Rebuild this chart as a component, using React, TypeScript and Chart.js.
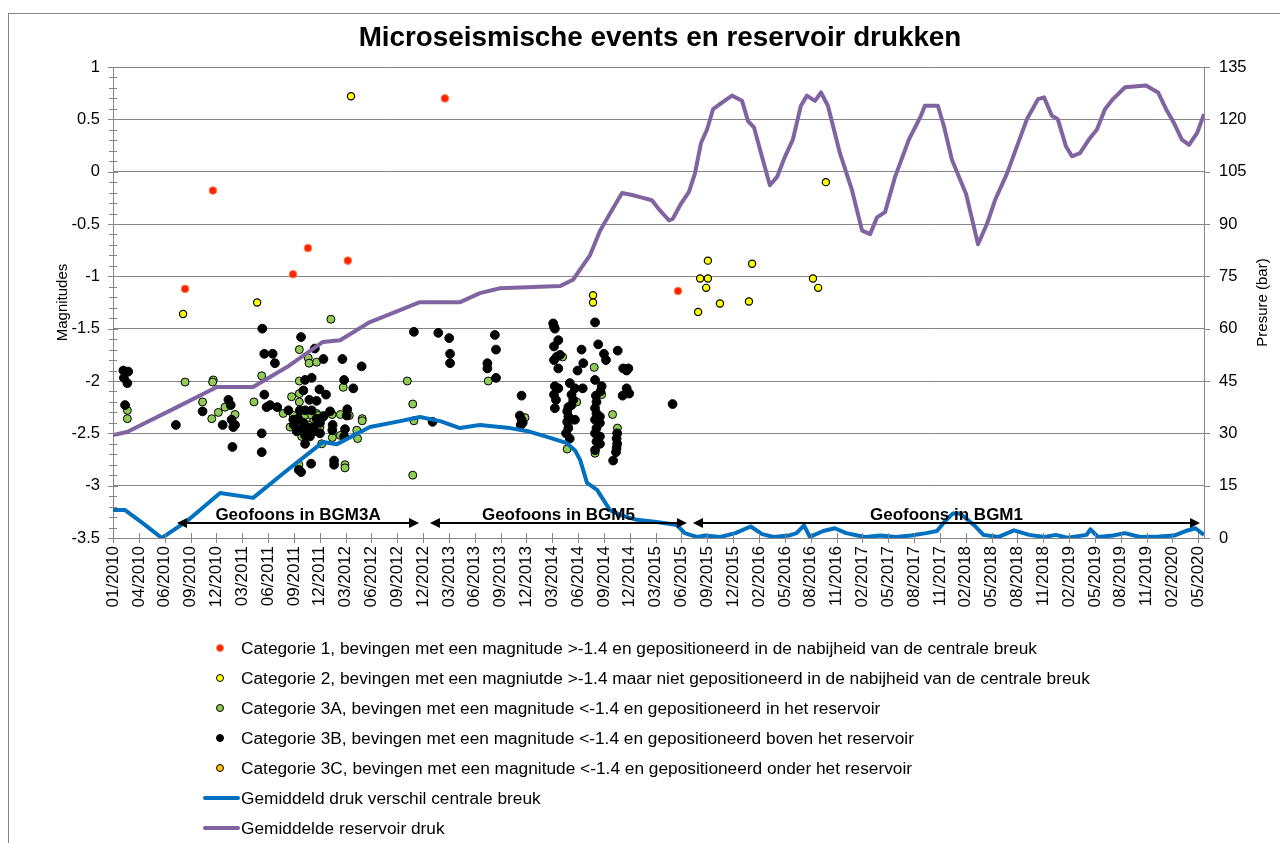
import React, { useEffect, useRef } from 'react';
import { Chart, registerables } from 'chart.js';

Chart.register(...registerables);

const FONT = '"Liberation Sans", Arial, sans-serif';

const TITLE = 'Microseismische events en reservoir drukken';
const Y_LEFT_TITLE = 'Magnitudes';
const Y_RIGHT_TITLE = 'Presure (bar)';

// x axis: days since 01/01/2010, a tick every 90 days
const X_TICK_LABELS = [
  '01/2010', '04/2010', '06/2010', '09/2010', '12/2010',
  '03/2011', '06/2011', '09/2011', '12/2011',
  '03/2012', '06/2012', '09/2012', '12/2012',
  '03/2013', '06/2013', '09/2013', '12/2013',
  '03/2014', '06/2014', '09/2014', '12/2014',
  '03/2015', '06/2015', '09/2015', '12/2015',
  '02/2016', '05/2016', '08/2016', '11/2016',
  '02/2017', '05/2017', '08/2017', '11/2017',
  '02/2018', '05/2018', '08/2018', '11/2018',
  '02/2019', '05/2019', '08/2019', '11/2019',
  '02/2020', '05/2020',
];
const X_TICK_STEP_DAYS = 90;
const X_MAX_DAYS = 3800;

const MAG_MIN = -3.5;
const MAG_MAX = 1;
const MAG_STEP = 0.5;
const PRES_MIN = 0;
const PRES_MAX = 135;
const PRES_STEP = 15;

// [day since 01/01/2010, magnitude]
const CAT1_EVENTS: [number, number][] = [
  [251, -1.12], [348, -0.18], [627, -0.98], [679, -0.73], [818, -0.85], [1156, 0.70], [1968, -1.14],
];

const CAT2_EVENTS: [number, number][] = [
  [244, -1.36], [502, -1.25], [829, 0.72], [1672, -1.18], [1672, -1.25], [2038, -1.34], [2045, -1.02],
  [2072, -1.02], [2072, -0.85], [2066, -1.11], [2114, -1.26], [2215, -1.24], [2226, -0.88], [2438, -1.02],
  [2456, -1.11], [2483, -0.10],
];

const CAT3A_EVENTS: [number, number][] = [
  [50, -2.28], [50, -2.36], [251, -2.01], [349, -1.99], [347, -2.01], [312, -2.20], [344, -2.36],
  [367, -2.30], [390, -2.25], [425, -2.32], [491, -2.20], [518, -1.95], [593, -2.31], [622, -2.15],
  [649, -1.70], [680, -1.78], [683, -1.83], [709, -1.82], [802, -2.06], [649, -2.00], [649, -2.12],
  [649, -2.20], [709, -2.31], [792, -2.32], [823, -2.33], [868, -2.36], [868, -2.38], [763, -2.32],
  [849, -2.47], [852, -2.55], [764, -2.54], [792, -2.52], [628, -2.33], [651, -2.37], [669, -2.33],
  [692, -2.33], [715, -2.33], [698, -2.39], [733, -2.33], [680, -2.42], [648, -2.44], [617, -2.44],
  [721, -2.44], [727, -2.60], [657, -2.53], [647, -2.80], [655, -2.87], [808, -2.80], [808, -2.83],
  [759, -1.41], [1025, -2.00], [1044, -2.22], [1048, -2.38], [1044, -2.90], [1307, -2.00],
  [1435, -2.35], [1566, -1.77], [1586, -2.41], [1582, -2.65], [1615, -2.20], [1676, -1.87],
  [1702, -2.13], [1679, -2.69], [1696, -2.60], [1740, -2.32], [1757, -2.45],
];

const CAT3B_EVENTS: [number, number][] = [
  [36, -1.90], [53, -1.91], [38, -1.97], [50, -2.02], [42, -2.23], [219, -2.42], [312, -2.29],
  [402, -2.18], [410, -2.23], [382, -2.42], [413, -2.37], [425, -2.42], [419, -2.44], [416, -2.63],
  [520, -1.50], [527, -1.74], [556, -1.74], [564, -1.83], [527, -2.13], [535, -2.25], [547, -2.23],
  [572, -2.25], [518, -2.50], [518, -2.68], [611, -2.28], [655, -1.58], [703, -1.69], [733, -1.79],
  [799, -1.79], [866, -1.86], [805, -1.99], [837, -2.07], [669, -1.99], [692, -1.97], [663, -2.09],
  [719, -2.08], [742, -2.13], [684, -2.18], [709, -2.19], [756, -2.29], [816, -2.27], [814, -2.33],
  [765, -2.42], [808, -2.46], [764, -2.47], [805, -2.53], [628, -2.37], [645, -2.36], [663, -2.40],
  [675, -2.44], [651, -2.47], [669, -2.52], [669, -2.60], [686, -2.53], [698, -2.44], [721, -2.40],
  [709, -2.36], [733, -2.34], [692, -2.28], [669, -2.28], [651, -2.28], [630, -2.42], [640, -2.48],
  [680, -2.48], [703, -2.48], [721, -2.50], [770, -2.76], [770, -2.80], [690, -2.79], [655, -2.87],
  [647, -2.85], [1048, -1.53], [1133, -1.54], [1171, -1.59], [1174, -1.74], [1174, -1.83],
  [1113, -2.39], [1330, -1.56], [1334, -1.70], [1304, -1.83], [1304, -1.88], [1334, -1.97],
  [1423, -2.14], [1417, -2.33], [1423, -2.37], [1427, -2.40], [1420, -2.42],
  [1533, -1.45], [1536, -1.48], [1539, -1.50], [1551, -1.61], [1536, -1.67], [1536, -1.80],
  [1545, -1.77], [1557, -1.75], [1551, -1.88], [1539, -2.05], [1551, -2.07], [1536, -2.13],
  [1543, -2.18], [1539, -2.26], [1591, -2.02], [1609, -2.07], [1597, -2.13], [1603, -2.18],
  [1597, -2.23], [1586, -2.25], [1582, -2.29], [1586, -2.34], [1582, -2.39], [1586, -2.45],
  [1578, -2.50], [1591, -2.55], [1609, -2.37], [1632, -1.70], [1638, -1.83], [1618, -1.90],
  [1636, -2.07], [1679, -1.44], [1690, -1.65], [1710, -1.74], [1717, -1.80], [1679, -1.99],
  [1702, -2.05], [1698, -2.10], [1682, -2.14], [1684, -2.20], [1679, -2.26], [1684, -2.31],
  [1696, -2.34], [1679, -2.37], [1696, -2.40], [1684, -2.45], [1679, -2.50], [1696, -2.53],
  [1684, -2.58], [1696, -2.60], [1679, -2.66], [1758, -1.71], [1777, -1.88], [1795, -1.88],
  [1789, -1.90], [1789, -2.07], [1798, -2.12], [1775, -2.14], [1756, -2.50], [1754, -2.55],
  [1756, -2.60], [1754, -2.64], [1752, -2.68], [1742, -2.76], [1949, -2.22],
];

const CAT3C_EVENTS: [number, number][] = [];

// [day since 01/01/2010, bar]
const FAULT_PRESSURE_DIFF: [number, number][] = [
  [0, 8.0], [42, 8.0], [100, 4.5], [170, 0], [260, 5.0], [373, 12.9], [488, 11.5], [600, 19.0],
  [731, 27.5], [780, 26.9], [895, 31.8], [1000, 33.5], [1069, 34.7], [1140, 33.5], [1208, 31.5],
  [1278, 32.4], [1347, 31.8], [1383, 31.5], [1450, 30.5], [1512, 29.0], [1581, 27.2], [1610, 25.0],
  [1627, 22.4], [1651, 15.8], [1686, 13.8], [1731, 8.0], [1770, 6.5], [1825, 5.2], [1900, 4.5],
  [1964, 3.7], [1990, 1.5], [2010, 0.9], [2035, 0.3], [2062, 0.7], [2115, 0.3], [2168, 1.4],
  [2221, 3.3], [2261, 1.1], [2301, 0.3], [2354, 0.7], [2381, 1.4], [2407, 3.6], [2427, 0.3],
  [2474, 2.0], [2514, 2.8], [2554, 1.4], [2593, 0.7], [2620, 0.3], [2673, 0.7], [2726, 0.3],
  [2779, 0.7], [2832, 1.4], [2870, 2.0], [2900, 5.0], [2925, 7.0], [2950, 7.0], [2980, 5.0],
  [3000, 3.6], [3032, 0.9], [3085, 0.3], [3138, 2.2], [3191, 0.9], [3245, 0.3], [3284, 0.9],
  [3324, 0.1], [3391, 0.9], [3404, 2.5], [3431, 0.3], [3484, 0.7], [3524, 1.4], [3577, 0.3],
  [3643, 0.4], [3696, 0.7], [3736, 2.0], [3770, 2.8], [3800, 0.9],
];

const RESERVOIR_PRESSURE: [number, number][] = [
  [0, 29.5], [49, 30.4], [223, 37.5], [362, 43.3], [488, 43.3], [606, 49.0], [731, 56.2], [791, 56.7],
  [895, 61.9], [1069, 67.6], [1209, 67.6], [1278, 70.2], [1348, 71.6], [1557, 72.2], [1602, 74.0],
  [1661, 81.0], [1696, 88.0], [1731, 93.0], [1773, 98.9], [1808, 98.3], [1836, 97.7], [1877, 96.8],
  [1905, 93.9], [1937, 91.0], [1950, 91.5], [1978, 95.8], [2006, 99.2], [2027, 104.5], [2048, 113.2],
  [2069, 117.1], [2090, 122.9], [2121, 124.8], [2156, 126.8], [2191, 125.3], [2212, 119.5],
  [2233, 117.6], [2260, 109.4], [2288, 101.1], [2313, 103.5], [2341, 109.4], [2368, 114.2],
  [2396, 123.9], [2417, 126.8], [2445, 125.3], [2466, 127.7], [2490, 123.9], [2532, 110.3],
  [2574, 99.7], [2609, 88.1], [2637, 87.1], [2661, 91.9], [2689, 93.4], [2724, 103.5], [2772, 114.2],
  [2814, 121.0], [2828, 123.9], [2873, 123.9], [2894, 118.1], [2922, 108.4], [2971, 98.7],
  [3013, 84.2], [3044, 90.0], [3072, 96.8], [3114, 104.5], [3183, 120.0], [3222, 125.8],
  [3243, 126.3], [3270, 121.0], [3291, 120.0], [3319, 112.3], [3340, 109.4], [3368, 110.3],
  [3399, 114.2], [3427, 117.1], [3455, 122.9], [3483, 125.8], [3525, 129.2], [3598, 129.7],
  [3640, 127.7], [3668, 122.9], [3695, 119.0], [3723, 114.2], [3748, 112.7], [3776, 116.1],
  [3800, 121.5],
];

// geophone periods: label, from day, to day
const GEOPHONE_LABELS = ['Geofoons in BGM3A', 'Geofoons in BGM5', 'Geofoons in BGM1'];
const GEOPHONE_FROM = [223, 1104, 2020];
const GEOPHONE_TO = [1066, 1999, 3786];
const GEOPHONE_LEVEL = -3.36;

const LEGEND_LABELS = [
  'Categorie 1, bevingen met een magnitude >-1.4 en gepositioneerd in de nabijheid van de centrale breuk',
  'Categorie 2, bevingen met een magniutde >-1.4 maar niet gepositioneerd in de nabijheid van de centrale breuk',
  'Categorie 3A, bevingen met een magnitude <-1.4 en gepositioneerd in het reservoir',
  'Categorie 3B, bevingen met een magnitude <-1.4 en gepositioneerd boven het reservoir',
  'Categorie 3C, bevingen met een magnitude <-1.4 en gepositioneerd onder het reservoir',
  'Gemiddeld druk verschil centrale breuk',
  'Gemiddelde reservoir druk',
];

const AXIS_COLOR = '#868686';
const C_CAT1 = '#FF2200';
const C_CAT1_RIM = '#FF7A4A';
const C_CAT2 = '#FFFF00';
const C_CAT3A = '#8FCB55';
const C_CAT3B = '#000000';
const C_CAT3C = '#FFC000';
const C_BLUE = '#0070C0';
const C_PURPLE = '#8064A2';

const toXY = (arr: [number, number][]) => arr.map(([x, y]) => ({ x, y }));

const decorPlugin = {
  id: 'decor',
  afterDraw(chart: any) {
    const { ctx, chartArea: a, scales } = chart;
    const x = scales.x;
    const y = scales.y;
    const y2 = scales.y2;
    ctx.save();
    ctx.strokeStyle = AXIS_COLOR;
    ctx.lineWidth = 1;
    // left axis ticks (major + minor, crossing)
    const nMinor = Math.round((MAG_MAX - MAG_MIN) / 0.1);
    for (let i = 0; i <= nMinor; i++) {
      const v = MAG_MIN + i * 0.1;
      const py = Math.round(y.getPixelForValue(v)) + 0.5;
      const len = i % 5 === 0 ? 5 : 4;
      ctx.beginPath();
      ctx.moveTo(a.left - len, py);
      ctx.lineTo(a.left + len, py);
      ctx.stroke();
    }
    // right axis ticks
    for (let v = PRES_MIN; v <= PRES_MAX; v += PRES_STEP) {
      const py = Math.round(y2.getPixelForValue(v)) + 0.5;
      ctx.beginPath();
      ctx.moveTo(a.right, py);
      ctx.lineTo(a.right + 6, py);
      ctx.stroke();
    }
    // x axis ticks
    X_TICK_LABELS.forEach((_, i) => {
      const px = Math.round(x.getPixelForValue(i * X_TICK_STEP_DAYS)) + 0.5;
      ctx.beginPath();
      ctx.moveTo(px, a.bottom - 5);
      ctx.lineTo(px, a.bottom + 5);
      ctx.stroke();
    });

    // axis titles
    ctx.fillStyle = '#000';
    ctx.textAlign = 'center';
    ctx.textBaseline = 'middle';
    ctx.font = `15px ${FONT}`;
    const midY = (a.top + a.bottom) / 2;
    ctx.save();
    ctx.translate(63, midY);
    ctx.rotate(-Math.PI / 2);
    ctx.fillText(Y_LEFT_TITLE, 0, 0);
    ctx.restore();
    ctx.save();
    ctx.translate(1263, midY);
    ctx.rotate(-Math.PI / 2);
    ctx.fillText(Y_RIGHT_TITLE, 0, 0);
    ctx.restore();

    // geophone arrows
    ctx.strokeStyle = '#000';
    ctx.fillStyle = '#000';
    ctx.lineWidth = 2;
    const py = Math.round(y.getPixelForValue(GEOPHONE_LEVEL));
    GEOPHONE_LABELS.forEach((label, i) => {
      const x1 = x.getPixelForValue(GEOPHONE_FROM[i]);
      const x2 = x.getPixelForValue(GEOPHONE_TO[i]);
      const head = 10;
      ctx.beginPath();
      ctx.moveTo(x1 + head - 1, py);
      ctx.lineTo(x2 - head + 1, py);
      ctx.stroke();
      ctx.beginPath();
      ctx.moveTo(x1, py);
      ctx.lineTo(x1 + head, py - 5);
      ctx.lineTo(x1 + head, py + 5);
      ctx.closePath();
      ctx.fill();
      ctx.beginPath();
      ctx.moveTo(x2, py);
      ctx.lineTo(x2 - head, py - 5);
      ctx.lineTo(x2 - head, py + 5);
      ctx.closePath();
      ctx.fill();
      ctx.font = `bold 17px ${FONT}`;
      ctx.textAlign = 'center';
      ctx.textBaseline = 'alphabetic';
      ctx.fillText(label, (x1 + x2) / 2, py - 3);
    });
    ctx.restore();
  },
};

export default function App() {
  const ref = useRef<HTMLCanvasElement>(null);

  useEffect(() => {
    if (!ref.current) return;
    const scatterBase = {
      type: 'scatter' as const,
      yAxisID: 'y',
      pointBorderWidth: 1,
      pointHoverRadius: 4,
    };
    const chart = new Chart(ref.current, {
      type: 'scatter',
      data: {
        datasets: [
          {
            type: 'line',
            label: LEGEND_LABELS[6],
            data: toXY(RESERVOIR_PRESSURE),
            yAxisID: 'y2',
            borderColor: C_PURPLE,
            backgroundColor: C_PURPLE,
            borderWidth: 4,
            pointRadius: 0,
            tension: 0,
            fill: false,
            borderJoinStyle: 'round',
          } as any,
          {
            type: 'line',
            label: LEGEND_LABELS[5],
            data: toXY(FAULT_PRESSURE_DIFF),
            yAxisID: 'y2',
            borderColor: C_BLUE,
            backgroundColor: C_BLUE,
            borderWidth: 4,
            pointRadius: 0,
            tension: 0,
            fill: false,
            borderJoinStyle: 'round',
          } as any,
          {
            ...scatterBase,
            label: LEGEND_LABELS[4],
            data: toXY(CAT3C_EVENTS),
            pointRadius: 4,
            pointBackgroundColor: C_CAT3C,
            pointBorderColor: '#000',
          },
          {
            ...scatterBase,
            label: LEGEND_LABELS[3],
            data: toXY(CAT3B_EVENTS),
            pointRadius: 4.4,
            pointBackgroundColor: C_CAT3B,
            pointBorderColor: '#000',
          },
          {
            ...scatterBase,
            label: LEGEND_LABELS[2],
            data: toXY(CAT3A_EVENTS),
            pointRadius: 4,
            pointBackgroundColor: C_CAT3A,
            pointBorderColor: '#000',
          },
          {
            ...scatterBase,
            label: LEGEND_LABELS[1],
            data: toXY(CAT2_EVENTS),
            pointRadius: 3.6,
            pointBackgroundColor: C_CAT2,
            pointBorderColor: '#000',
            pointBorderWidth: 1.2,
          },
          {
            ...scatterBase,
            label: LEGEND_LABELS[0],
            data: toXY(CAT1_EVENTS),
            pointRadius: 3.8,
            pointBackgroundColor: C_CAT1,
            pointBorderColor: C_CAT1_RIM,
          },
        ],
      },
      options: {
        responsive: false,
        animation: false,
        events: [],
        layout: { padding: { top: 67, left: 0, right: 0, bottom: 0 } },
        plugins: { legend: { display: false }, tooltip: { enabled: false }, title: { display: false } },
        scales: {
          x: {
            type: 'linear',
            position: 'bottom',
            min: 0,
            max: X_MAX_DAYS,
            afterBuildTicks: (s: any) => {
              s.ticks = X_TICK_LABELS.map((_, i) => ({ value: i * X_TICK_STEP_DAYS }));
            },
            afterFit: (s: any) => {
              s.height = 305;
            },
            grid: { display: false, drawTicks: false },
            border: { display: true, color: AXIS_COLOR, width: 1 },
            ticks: {
              autoSkip: false,
              minRotation: 90,
              maxRotation: 90,
              padding: 8,
              color: '#000',
              font: { family: FONT, size: 17 },
              callback: (_v: any, i: number) => X_TICK_LABELS[i],
            },
          },
          y: {
            type: 'linear',
            position: 'left',
            min: MAG_MIN,
            max: MAG_MAX,
            afterFit: (s: any) => {
              s.width = 113;
            },
            grid: { display: true, color: AXIS_COLOR, lineWidth: 1, drawTicks: false },
            border: { display: true, color: AXIS_COLOR, width: 1 },
            ticks: {
              stepSize: MAG_STEP,
              padding: 13,
              color: '#000',
              font: { family: FONT, size: 16.5 },
              callback: (v: any) => String(Math.round(Number(v) * 10) / 10),
            },
          },
          y2: {
            type: 'linear',
            position: 'right',
            min: PRES_MIN,
            max: PRES_MAX,
            afterFit: (s: any) => {
              s.width = 76;
            },
            grid: { display: false, drawTicks: false },
            border: { display: true, color: AXIS_COLOR, width: 1 },
            ticks: {
              stepSize: PRES_STEP,
              padding: 15,
              color: '#000',
              font: { family: FONT, size: 16.5 },
              callback: (v: any) => String(Math.round(Number(v))),
            },
          },
        },
      },
      plugins: [decorPlugin],
    } as any);
    return () => chart.destroy();
  }, []);

  const markers = [
    { fill: C_CAT1, border: C_CAT1_RIM },
    { fill: C_CAT2, border: '#000' },
    { fill: C_CAT3A, border: '#000' },
    { fill: C_CAT3B, border: '#000' },
    { fill: C_CAT3C, border: '#000' },
  ];
  const lineColors = [C_BLUE, C_PURPLE];

  return (
    <div
      style={{
        position: 'fixed',
        left: 0,
        top: 0,
        width: 1280,
        height: 843,
        overflow: 'hidden',
        background: '#fff',
        fontFamily: FONT,
      }}
    >
      <div
        style={{
          position: 'absolute',
          left: 8,
          top: 13,
          width: 1400,
          height: 1000,
          border: `1px solid ${AXIS_COLOR}`,
        }}
      />
      <canvas ref={ref} width={1280} height={843} style={{ position: 'absolute', left: 0, top: 0 }} />
      <div
        style={{
          position: 'absolute',
          left: 0,
          top: 21,
          width: 1320,
          textAlign: 'center',
          fontWeight: 'bold',
          fontSize: 27.8,
          lineHeight: '32px',
          color: '#000',
        }}
      >
        {TITLE}
      </div>
      {LEGEND_LABELS.map((label, i) => {
        const top = 633 + i * 30;
        return (
          <div key={label} style={{ position: 'absolute', left: 0, top, height: 30, width: 1280 }}>
            {i < 5 ? (
              <div
                style={{
                  position: 'absolute',
                  left: 216,
                  top: 11,
                  width: 6,
                  height: 6,
                  borderRadius: '50%',
                  background: markers[i].fill,
                  border: `1px solid ${markers[i].border}`,
                }}
              />
            ) : (
              <div
                style={{
                  position: 'absolute',
                  left: 203,
                  top: 13,
                  width: 37,
                  height: 4,
                  borderRadius: 2,
                  background: lineColors[i - 5],
                }}
              />
            )}
            <div
              style={{
                position: 'absolute',
                left: 241,
                top: 0,
                lineHeight: '30px',
                fontSize: 17.3,
                color: '#000',
                whiteSpace: 'nowrap',
              }}
            >
              {label}
            </div>
          </div>
        );
      })}
    </div>
  );
}
